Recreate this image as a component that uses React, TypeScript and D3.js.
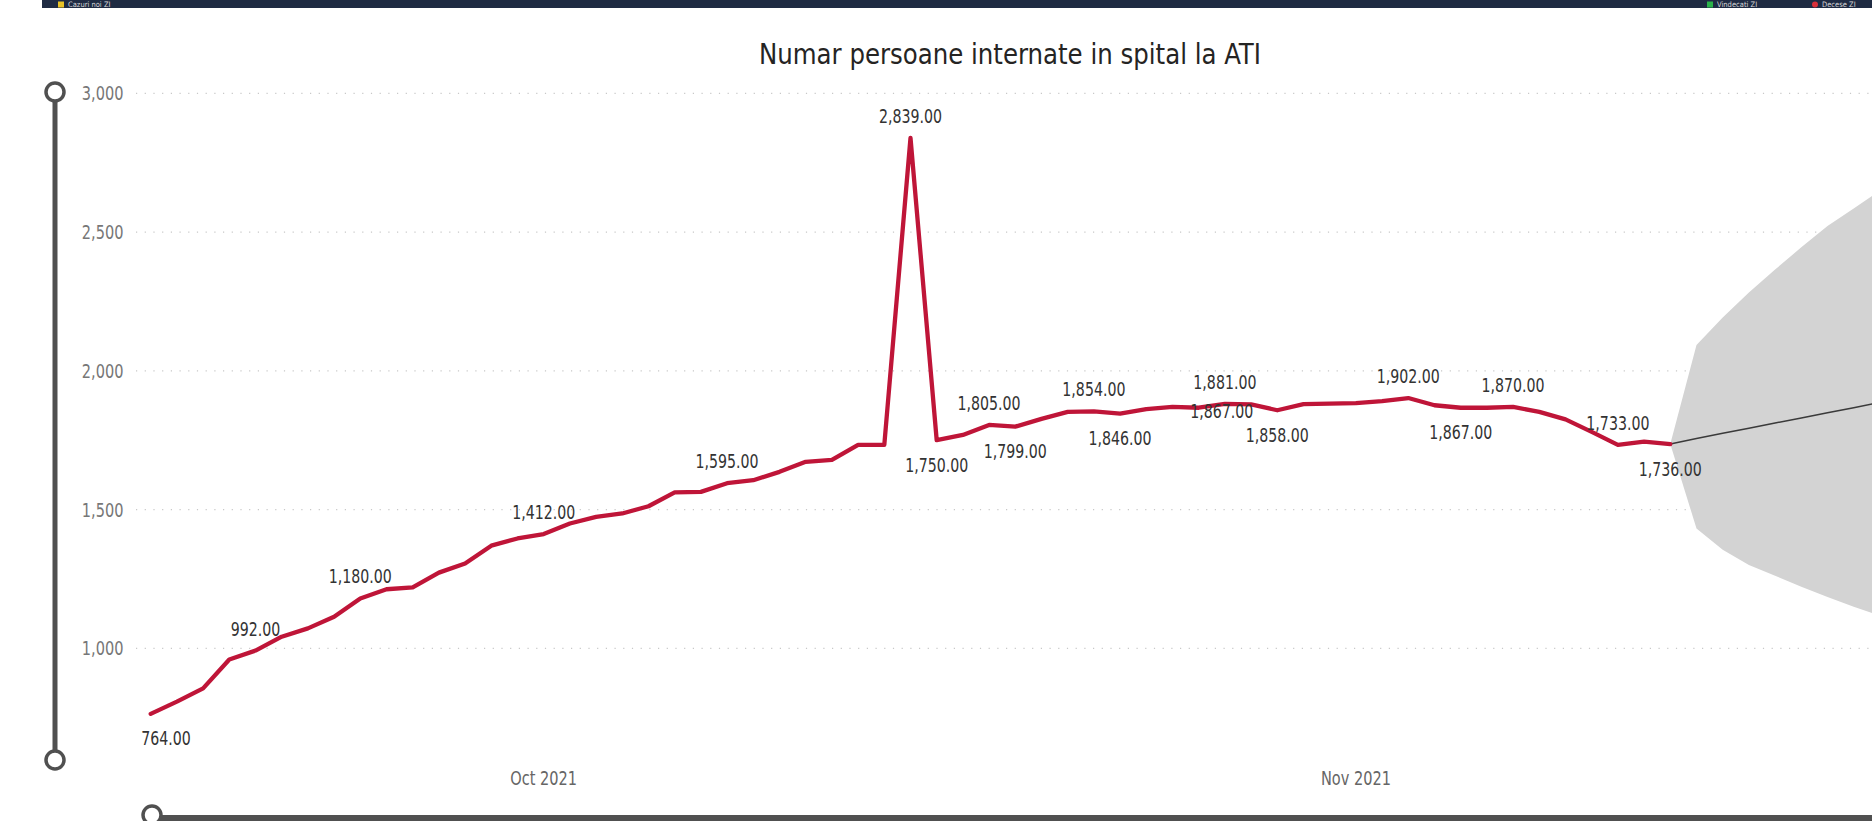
import React from 'react';
import * as d3 from 'd3';

// daily ICU patients, 16 Sep 2021 .. 13 Nov 2021
const startDay = new Date(Date.UTC(2021, 8, 16));
const endDay = new Date(Date.UTC(2021, 10, 13));
const values = [
  764, 808, 856, 960, 992, 1042, 1072, 1114, 1180, 1213,
  1220, 1273, 1306, 1370, 1396, 1412, 1450, 1474, 1486, 1512,
  1562, 1564, 1595, 1606, 1636, 1672, 1679, 1733, 1733, 2839,
  1750, 1769, 1805, 1799, 1827, 1852, 1854, 1846, 1862, 1870,
  1867, 1881, 1879, 1858, 1880, 1882, 1884, 1891, 1902, 1876,
  1867, 1867, 1870, 1852, 1825, 1780, 1733, 1745, 1736,
];

// forecast 14 Nov .. 21 Nov
const forecastMean = [1756, 1775, 1793, 1812, 1830, 1849, 1867, 1886];
const forecastUpper = [2093, 2192, 2282, 2365, 2445, 2522, 2585, 2650];
const forecastLower = [1432, 1355, 1300, 1262, 1222, 1185, 1150, 1118];

// which points carry a data label, and on which side
const labelIdx = [0, 4, 8, 15, 22, 29, 30, 32, 33, 36, 37, 41, 40, 43, 48, 50, 52, 56, 58];
const labelSide = ['below', 'above', 'above', 'above', 'above', 'above', 'below', 'above', 'below', 'above', 'below', 'above', 'mid', 'below', 'above', 'below', 'above', 'above', 'below'];

const yTicks = [1000, 1500, 2000, 2500, 3000];

const W = 1872;
const H = 821;
const RED = '#bf1538';
const NARROW = "'Liberation Sans Narrow', 'DejaVu Sans Condensed', 'Liberation Sans', sans-serif";
const SQUEEZE = 0.83;

function NText({ x, y, anchor = 'middle', size, fill, children }: any) {
  return (
    <text transform={`translate(${x},${y}) scale(${SQUEEZE},1)`} textAnchor={anchor}
      dominantBaseline="central" fontFamily={NARROW} fontSize={size} fill={fill}>
      {children}
    </text>
  );
}

export default function App() {
  const dates = d3.utcDay.range(startDay, d3.utcDay.offset(endDay, 1));
  const fDates = d3.utcDay.range(d3.utcDay.offset(endDay, 1), d3.utcDay.offset(endDay, forecastMean.length + 1));

  const x = d3.scaleUtc().domain([startDay, endDay]).range([150.7, 1670.3]);
  const y = d3.scaleLinear().domain([650, 3000]).range([745.5, 93.3]);

  const pts = dates.map((d, i) => ({ d, v: values[i] }));
  const last = pts[pts.length - 1];

  const line = d3.line<{ d: Date; v: number }>().x(p => x(p.d)).y(p => y(p.v));

  const band = [{ d: last.d, hi: last.v, lo: last.v }].concat(
    fDates.map((d, i) => ({ d, hi: forecastUpper[i], lo: forecastLower[i] }))
  );
  const area = d3.area<{ d: Date; hi: number; lo: number }>()
    .x(p => x(p.d)).y0(p => y(p.lo)).y1(p => y(p.hi));

  const fLine = [last].concat(fDates.map((d, i) => ({ d, v: forecastMean[i] })));

  const fmt = d3.format(',.2f');
  const monthTicks = x.ticks(d3.utcMonth.every(1)!);
  const plotLeft = 141;

  return (
    <svg width={W} height={H} style={{ position: 'fixed', left: 0, top: 0, background: '#fff' }}>
      <defs>
        <clipPath id="plotClip">
          <rect x={0} y={0} width={W} height={H} />
        </clipPath>
      </defs>

      {/* top strip of the report */}
      <rect x={42} y={0} width={W} height={8} fill="#1f2b43" />
      <g fontFamily={NARROW} fontSize={7.5} fill="#d8d8d8">
        <rect x={58} y={1.5} width={6} height={6} fill="#e8c227" />
        <text x={68} y={7}>Cazuri noi ZI</text>
        <rect x={1707} y={1.5} width={6} height={6} fill="#2bb34a" />
        <text x={1717} y={7}>Vindecati ZI</text>
        <circle cx={1815} cy={4.5} r={3} fill="#d9303a" />
        <text x={1822} y={7}>Decese ZI</text>
      </g>

      {/* title */}
      <text x={1010} y={54} textAnchor="middle" dominantBaseline="central" fontFamily={NARROW}
        fontSize={28} fill="#252423" textLength={502} lengthAdjust="spacingAndGlyphs">
        Numar persoane internate in spital la ATI
      </text>

      {/* grid + y axis */}
      {yTicks.map(t => (
        <g key={t}>
          <line x1={136} x2={W} y1={y(t)} y2={y(t)} stroke="#c8c8c8" strokeWidth={1.2} strokeDasharray="1.2,7.5" />
          <NText x={123.5} y={y(t)} anchor="end" size={19.5} fill="#777">{d3.format(',')(t)}</NText>
        </g>
      ))}

      {/* x axis */}
      {monthTicks.map(t => (
        <NText key={+t} x={x(t)} y={778} size={19.5} fill="#666">{d3.utcFormat('%b %Y')(t)}</NText>
      ))}

      {/* forecast */}
      <g clipPath="url(#plotClip)">
        <path d={area(band) ?? ''} fill="#d3d3d3" />
        <path d={line(fLine) ?? ''} fill="none" stroke="#3a3a3a" strokeWidth={1.5} />
      </g>

      {/* actual series */}
      <path d={line(pts) ?? ''} fill="none" stroke={RED} strokeWidth={4.3} strokeLinejoin="round" strokeLinecap="round" />

      {/* data labels */}
      {labelIdx.map((idx, k) => {
        const p = pts[idx];
        const side = labelSide[k];
        let lx = x(p.d);
        let ly = y(p.v);
        if (side === 'above') ly -= 21.5;
        else if (side === 'below') ly += 25;
        else { lx += 23; ly += 4; }
        lx = Math.max(lx, plotLeft + 25);
        return <NText key={idx} x={lx} y={ly} size={19} fill="#333">{fmt(p.v)}</NText>;
      })}

      {/* vertical zoom slider */}
      <line x1={55} x2={55} y1={93} y2={760} stroke="#505050" strokeWidth={5} />
      <circle cx={55} cy={92} r={9} fill="#fff" stroke="#505050" strokeWidth={3.5} />
      <circle cx={55} cy={760} r={9} fill="#fff" stroke="#505050" strokeWidth={3.5} />

      {/* horizontal zoom slider */}
      <line x1={152} x2={W} y1={818} y2={818} stroke="#505050" strokeWidth={6} />
      <circle cx={152} cy={815} r={9} fill="#fff" stroke="#505050" strokeWidth={3.5} />
    </svg>
  );
}
